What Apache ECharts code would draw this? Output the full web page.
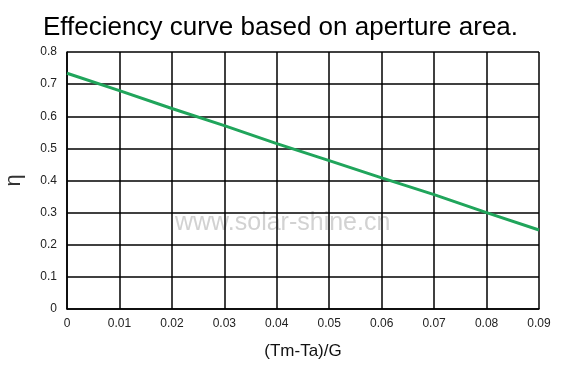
<!DOCTYPE html>
<html>
<head>
<meta charset="utf-8">
<script src="https://cdn.jsdelivr.net/npm/echarts@6/dist/echarts.min.js"></script>
<style>html,body{margin:0;padding:0;background:#fff;}#c{width:573px;height:373px;}</style>
</head>
<body>
<div id="c"></div>
<script>
var titleText = 'Effeciency curve based on aperture area.';
var xName = '(Tm-Ta)/G';
var yName = 'η';
var watermark = 'www.solar-shine.cn';
var xValues = [0, 0.01, 0.02, 0.03, 0.04, 0.05, 0.06, 0.07, 0.08, 0.09];
var efficiency = [0.734, 0.680, 0.624, 0.571, 0.515, 0.462, 0.408, 0.356, 0.300, 0.246];

var chart = echarts.init(document.getElementById('c'), null, {renderer: 'canvas'});
var font = 'Liberation Sans, Arial, sans-serif';
chart.setOption({
  animation: false,
  backgroundColor: '#fff',
  title: {
    text: titleText, left: 38, top: 10,
    textStyle: {fontFamily: font, fontSize: 26, fontWeight: 'normal', color: '#000'}
  },
  graphic: [{
    type: 'text', left: 175, top: 211, z: 0,
    style: {text: watermark, fontFamily: font, fontSize: 25, fill: '#d2d2d2'}
  }],
  grid: {left: 67, right: 34, top: 52, bottom: 64, outerBoundsMode: 'none', containLabel: false},
  xAxis: {
    type: 'value', min: 0, max: 0.09, interval: 0.01,
    name: xName, nameLocation: 'middle', nameGap: 34,
    nameTextStyle: {fontFamily: font, fontSize: 17, color: '#111'},
    axisLine: {show: true, lineStyle: {color: '#000', width: 1.5}},
    axisTick: {show: false},
    axisLabel: {fontFamily: font, fontSize: 12, color: '#222', margin: 9,
      formatter: function (v) { return String(Math.round(v * 100) / 100); }},
    splitLine: {show: true, lineStyle: {color: '#000', width: 1.5}}
  },
  yAxis: {
    type: 'value', min: 0, max: 0.8, interval: 0.1,
    name: yName, nameLocation: 'middle', nameGap: 42, nameRotate: 90,
    nameTextStyle: {fontFamily: font, fontSize: 22, color: '#333'},
    axisLine: {show: true, lineStyle: {color: '#000', width: 1.5}},
    axisTick: {show: false},
    axisLabel: {fontFamily: font, fontSize: 12, color: '#222', margin: 10,
      formatter: function (v) { return String(Math.round(v * 10) / 10); }},
    splitLine: {show: true, lineStyle: {color: '#000', width: 1.5}}
  },
  series: [{
    type: 'line', showSymbol: false, symbol: 'none', smooth: false, z: 5,
    data: xValues.map(function (x, i) { return [x, efficiency[i]]; }),
    lineStyle: {color: '#20a55b', width: 3}
  }]
});
</script>
</body>
</html>
